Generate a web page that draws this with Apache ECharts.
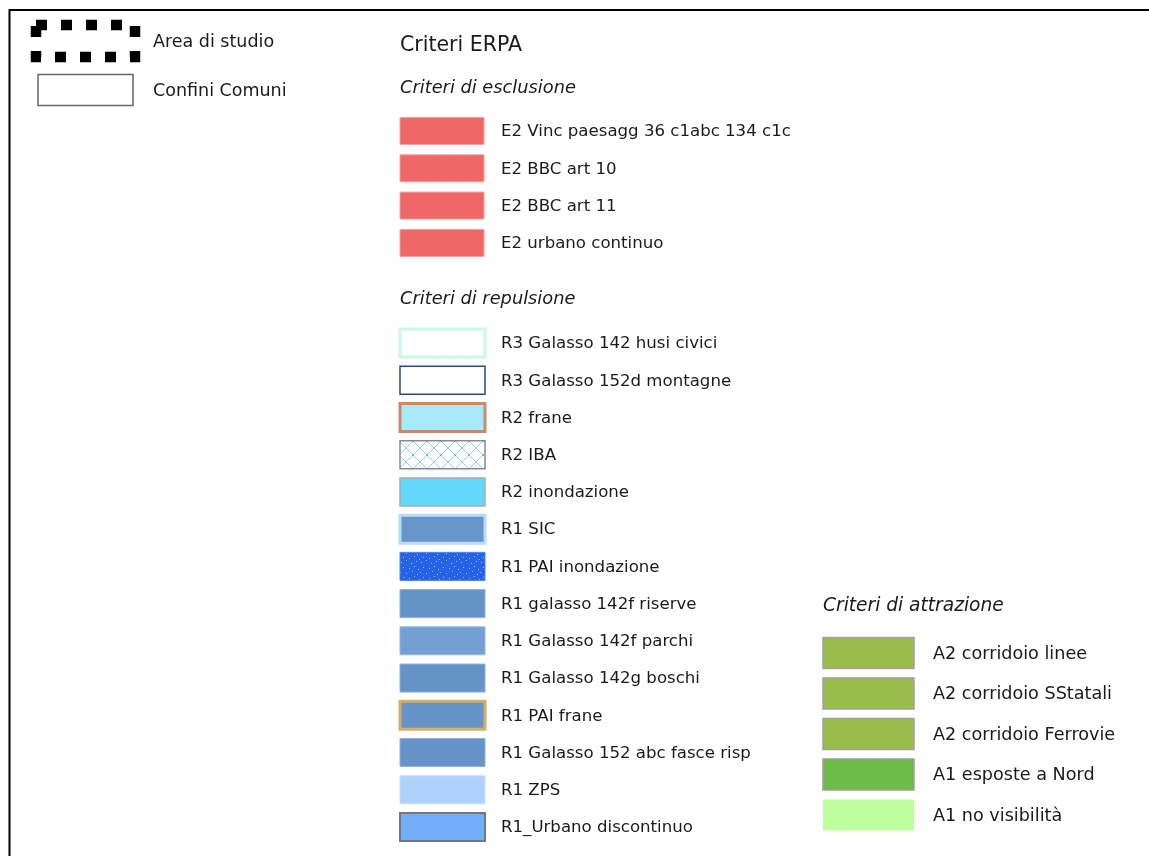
<!DOCTYPE html>
<html>
<head>
<meta charset="utf-8">
<script src="https://cdn.jsdelivr.net/npm/echarts@6/dist/echarts.min.js"></script>
<style>
  html, body { margin: 0; padding: 0; background: #fff; }
  #main { width: 1149px; height: 856px; }
</style>
</head>
<body>
<div id="main"></div>
<script>
// legend entries
var baseLabels = ["Area di studio", "Confini Comuni"];
var esclusioneLabels = [
  "E2 Vinc paesagg 36 c1abc 134 c1c",
  "E2 BBC art 10",
  "E2 BBC art 11",
  "E2 urbano continuo"
];
var repulsioneLabels = [
  "R3 Galasso 142 husi civici",
  "R3 Galasso 152d montagne",
  "R2 frane",
  "R2 IBA",
  "R2 inondazione",
  "R1 SIC",
  "R1 PAI inondazione",
  "R1 galasso 142f riserve",
  "R1 Galasso 142f parchi",
  "R1 Galasso 142g boschi",
  "R1 PAI frane",
  "R1 Galasso 152 abc fasce risp",
  "R1 ZPS",
  "R1_Urbano discontinuo"
];
var attrazioneLabels = [
  "A2 corridoio linee",
  "A2 corridoio SStatali",
  "A2 corridoio Ferrovie",
  "A1 esposte a Nord",
  "A1 no visibilità"
];
var headers = ["Criteri ERPA", "Criteri di esclusione", "Criteri di repulsione", "Criteri di attrazione"];

// swatch textures
function hatchPattern() {
  var c = document.createElement("canvas");
  c.width = 14; c.height = 14;
  var ctx = c.getContext("2d");
  ctx.fillStyle = "#ffffff";
  ctx.fillRect(0, 0, 14, 14);
  ctx.strokeStyle = "#8dd3f3";
  ctx.lineWidth = 1;
  ctx.beginPath();
  ctx.moveTo(0, 0); ctx.lineTo(14, 14);
  ctx.moveTo(14, 0); ctx.lineTo(0, 14);
  ctx.stroke();
  ctx.fillStyle = "#5fbde8";
  ctx.fillRect(6, 6, 2, 2);
  return { image: c, repeat: "repeat" };
}
function dotPattern() {
  var c = document.createElement("canvas");
  c.width = 20; c.height = 20;
  var ctx = c.getContext("2d");
  ctx.fillStyle = "#2662e6";
  ctx.fillRect(0, 0, 20, 20);
  ctx.fillStyle = "#9fbcf6";
  var dots = [[1, 2], [6, 0], [11, 3], [16, 1], [3, 7], [9, 8], [14, 6], [18, 9],
              [0, 12], [6, 13], [12, 11], [17, 14], [3, 17], [9, 18], [14, 16], [19, 19]];
  dots.forEach(function (d) { ctx.fillRect(d[0], d[1], 1, 1); });
  return { image: c, repeat: "repeat" };
}

var font = '"DejaVu Sans", sans-serif';
var textColor = "#1a1a1a";

// styles, by position in the lists above
var baseStyles = [
  { fill: "none", stroke: "#000", lineWidth: 10.5, lineDash: [11, 14], dx: 0, w: 99, h: 32 },
  { fill: "#fff", stroke: "#666", lineWidth: 1.5, dx: 2, w: 95, h: 31 }
];
var esclusioneStyles = esclusioneLabels.map(function () {
  return { fill: "#f06767", stroke: "#f4a2a2", lineWidth: 1 };
});
var repulsioneStyles = [
  { fill: "#ffffff", stroke: "#c8f8e6", lineWidth: 3 },
  { fill: "#ffffff", stroke: "#28488f", lineWidth: 1.5 },
  { fill: "#a8eafa", stroke: "#c98a6a", lineWidth: 3 },
  { fill: hatchPattern(), stroke: "#8a8a8a", lineWidth: 1.5 },
  { fill: "#62d8fa", stroke: "#aaaaaa", lineWidth: 1.5 },
  { fill: "#6895c9", stroke: "#b5dcfa", lineWidth: 3 },
  { fill: dotPattern(), stroke: "#4b80ef", lineWidth: 1 },
  { fill: "#6694c9", stroke: "#8db0dc", lineWidth: 1 },
  { fill: "#739fd3", stroke: "#96b8e0", lineWidth: 1 },
  { fill: "#6694c9", stroke: "#8db0dc", lineWidth: 1 },
  { fill: "#6694c9", stroke: "#d2ae68", lineWidth: 3 },
  { fill: "#6694c9", stroke: "#8db0dc", lineWidth: 1 },
  { fill: "#aed2fc", stroke: "#c5e0fd", lineWidth: 1 },
  { fill: "#72aefb", stroke: "#777777", lineWidth: 2 }
];
var attrazioneStyles = [
  { fill: "#9bbd4b", stroke: "#a0a0a0", lineWidth: 1.5 },
  { fill: "#9bbd4b", stroke: "#a0a0a0", lineWidth: 1.5 },
  { fill: "#9bbd4b", stroke: "#a0a0a0", lineWidth: 1.5 },
  { fill: "#6cba48", stroke: "#a0a0a0", lineWidth: 1.5 },
  { fill: "#befe9c", stroke: null, lineWidth: 0 }
];

var blocks = [
  { labels: baseLabels, styles: baseStyles, grid: { left: 36, top: 16.5, height: 98 }, w: 99, h: 32, textDx: 117, fontSize: 17.5 },
  { labels: esclusioneLabels, styles: esclusioneStyles, grid: { left: 400, top: 112.3, height: 149.3 }, w: 84, h: 27, textDx: 101, fontSize: 16.6 },
  { labels: repulsioneLabels, styles: repulsioneStyles, grid: { left: 400, top: 324.4, height: 521.2 }, w: 85, h: 28, textDx: 101, fontSize: 16.6 },
  { labels: attrazioneLabels, styles: attrazioneStyles, grid: { left: 823, top: 632.8, height: 202.5 }, w: 91, h: 31, textDx: 110, fontSize: 17.6 }
];

var grids = [], xAxes = [], yAxes = [], series = [];
blocks.forEach(function (b, k) {
  grids.push({ left: b.grid.left, top: b.grid.top, height: b.grid.height, width: 300 });
  xAxes.push({ gridIndex: k, type: "value", min: 0, max: 1, show: false });
  yAxes.push({ gridIndex: k, type: "category", data: b.labels, inverse: true, show: false });
  series.push({
    type: "custom",
    xAxisIndex: k,
    yAxisIndex: k,
    silent: true,
    data: b.labels.map(function (l, i) { return [0, i]; }),
    renderItem: function (params, api) {
      var p = api.coord([0, api.value(1)]);
      var st = b.styles[params.dataIndex];
      var w = st.w || b.w, h = st.h || b.h, dx = st.dx || 0;
      var rectStyle = { fill: st.fill, stroke: st.stroke, lineWidth: st.lineWidth };
      if (st.lineDash) rectStyle.lineDash = st.lineDash;
      return {
        type: "group",
        children: [
          { type: "rect", shape: { x: p[0] + dx, y: p[1] - h / 2, width: w, height: h }, style: rectStyle },
          {
            type: "text", x: p[0] + b.textDx, y: p[1] + 1,
            style: { text: b.labels[params.dataIndex], fill: textColor, font: b.fontSize + "px " + font, verticalAlign: "middle", align: "left" }
          }
        ]
      };
    }
  });
});

var chart = echarts.init(document.getElementById("main"));
var option = {
  animation: false,
  backgroundColor: "#fff",
  title: [
    { text: headers[0], left: 400, top: 35, padding: 0, textStyle: { fontFamily: font, fontSize: 20.5, fontWeight: "normal", color: textColor } },
    { text: headers[1], left: 400, top: 79, padding: 0, textStyle: { fontFamily: font, fontSize: 17.8, fontStyle: "italic", fontWeight: "normal", color: textColor } },
    { text: headers[2], left: 400, top: 290, padding: 0, textStyle: { fontFamily: font, fontSize: 17.8, fontStyle: "italic", fontWeight: "normal", color: textColor } },
    { text: headers[3], left: 823, top: 597, padding: 0, textStyle: { fontFamily: font, fontSize: 18.6, fontStyle: "italic", fontWeight: "normal", color: textColor } }
  ],
  graphic: [
    { type: "polyline", shape: { points: [[9.5, 856], [9.5, 10], [1149, 10]] }, style: { stroke: "#000", lineWidth: 2, fill: null } }
  ],
  grid: grids,
  xAxis: xAxes,
  yAxis: yAxes,
  series: series
};
chart.setOption(option);
</script>
</body>
</html>
